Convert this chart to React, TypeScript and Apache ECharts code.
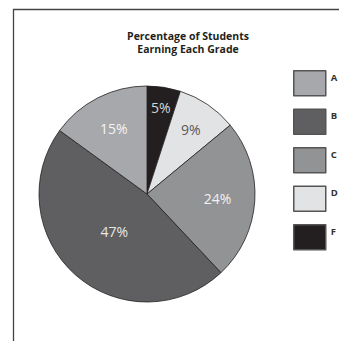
import React, { useEffect, useRef } from "react";
import * as echarts from "echarts";

const grades = ["F", "D", "C", "B", "A"];
const percents = [5, 9, 24, 47, 15];
const legendOrder = ["A", "B", "C", "D", "F"];
const titleLines = ["Percentage of Students", "Earning Each Grade"];

const sliceColors = ["#231f20", "#e2e3e4", "#929395", "#5f5f61", "#a7a8ab"];
const labelColors = ["#d6d6d6", "#58585a", "#f2f2f2", "#e6e6e6", "#f4f4f4"];
const labelRadiusFactor = [1.54, 1.37, 1.24, 0.87, 1.28];
const CX = 147;
const CY = 194;
const R = 108;

export default function App() {
  const ref = useRef<HTMLDivElement>(null);
  useEffect(() => {
    document.body.style.margin = "0";
    const chart = echarts.init(ref.current!, null, { renderer: "svg" });
    chart.setOption({
      animation: false,
      backgroundColor: "#ffffff",
      title: {
        text: titleLines.join("\n"),
        left: 183,
        top: 24,
        textAlign: "center",
        textStyle: {
          fontFamily: "Open Sans",
          fontWeight: "bold",
          fontSize: 10.5,
          lineHeight: 13,
          color: "#231f20",
        },
      },
      legend: {
        data: legendOrder,
        orient: "vertical",
        left: 293,
        top: 70,
        padding: 0,
        itemWidth: 32,
        itemHeight: 25,
        itemGap: 12,
        icon: "rect",
        selectedMode: false,
        itemStyle: { borderColor: "#555555", borderWidth: 1.5 },
        formatter: "{t|{name}}",
        textStyle: {
          fontFamily: "Open Sans",
          fontSize: 9.5,
          fontWeight: "bold",
          color: "#333333",
          rich: {
            t: {
              fontFamily: "Open Sans",
              fontSize: 9.5,
              fontWeight: "bold",
              color: "#333333",
              padding: [0, 0, 12, 0],
            },
          },
        },
      },
      graphic: [
        {
          type: "polyline",
          shape: { points: [[13.5, 341], [13.5, 9.5], [339, 9.5]] },
          style: { stroke: "#444444", lineWidth: 1.3, fill: "none" },
          silent: true,
        },
      ],
      series: [
        {
          type: "pie",
          center: [CX, CY],
          radius: [0, R],
          startAngle: 90,
          clockwise: true,
          avoidLabelOverlap: false,
          itemStyle: { borderColor: "#231f20", borderWidth: 0.8 },
          label: {
            show: true,
            position: "inside",
            formatter: "{c}%",
            fontFamily: "Open Sans",
            fontSize: 14,
          },
          labelLine: { show: false },
          emphasis: { disabled: true },
          labelLayout: (p: any) => {
            const k = labelRadiusFactor[p.dataIndex];
            const lx = p.labelRect.x + p.labelRect.width / 2;
            const ly = p.labelRect.y + p.labelRect.height / 2;
            return { dx: (lx - CX) * (k - 1), dy: (ly - CY) * (k - 1) };
          },
          data: grades.map((g, i) => ({
            name: g,
            value: percents[i],
            itemStyle: { color: sliceColors[i] },
            label: { color: labelColors[i] },
          })),
        },
      ],
    });
    return () => chart.dispose();
  }, []);
  return <div ref={ref} style={{ width: 339, height: 341 }} />;
}
